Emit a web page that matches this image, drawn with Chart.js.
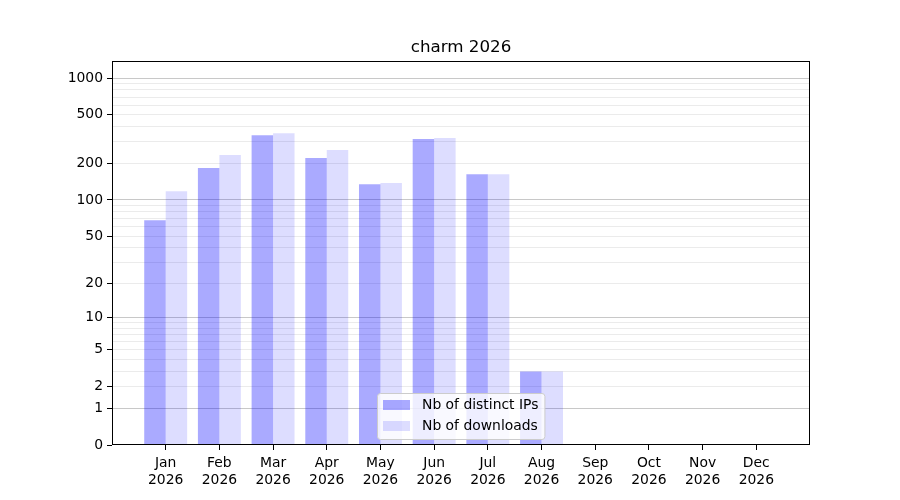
<!DOCTYPE html>
<html>
<head>
<meta charset="utf-8">
<title>charm 2026</title>
<script src="https://cdn.jsdelivr.net/npm/chart.js@4/dist/chart.umd.min.js"></script>
<style>
    html, body { margin: 0; padding: 0; background: #fff; }
    #wrap { width: 900px; height: 500px; }
</style>
</head>
<body>
<div id="wrap"><canvas id="myChart" width="900" height="500"></canvas></div>
<script>
const months = ['Jan', 'Feb', 'Mar', 'Apr', 'May', 'Jun', 'Jul', 'Aug', 'Sep', 'Oct', 'Nov', 'Dec'];
const year = '2026';
const distinctIps = [68, 183, 341, 221, 135, 317, 163, 3, 0, 0, 0, 0];
const downloads = [118, 234, 354, 257, 138, 323, 163, 3, 0, 0, 0, 0];
const yTicks = [0, 1, 2, 5, 10, 20, 50, 100, 200, 500, 1000];
const yMinorTicks = [3, 4, 6, 7, 8, 9, 30, 40, 60, 70, 80, 90, 300, 400, 600, 700, 800, 900];
const yDecades = [1, 10, 100, 1000];
const yMax = 1380;

// y scale drawn as log10(1 + v), like the original picture
class Log1pScale extends Chart.Scale {
    static id = 'log1p';
    static defaults = {};

    parse(raw) {
        return raw === null || raw === undefined ? null : +raw;
    }

    determineDataLimits() {
        const { min, max } = this.getMinMax(true);
        this.min = this.options.min ?? Math.min(0, min);
        this.max = this.options.max ?? max;
    }

    buildTicks() {
        return yTicks.concat(yMinorTicks)
            .filter(v => v >= this.min && v <= this.max)
            .sort((a, b) => a - b)
            .map(v => ({ value: v }));
    }

    configure() {
        super.configure();
        this._start = Math.log10(1 + this.min);
        this._range = Math.log10(1 + this.max) - this._start;
    }

    getLabelForValue(value) {
        return String(value);
    }

    getPixelForValue(value) {
        if (value === null || value === undefined || isNaN(value)) {
            return NaN;
        }
        return this.getPixelForDecimal((Math.log10(1 + value) - this._start) / this._range);
    }

    getValueForPixel(pixel) {
        return Math.pow(10, this._start + this.getDecimalForPixel(pixel) * this._range) - 1;
    }
}
Chart.register(Log1pScale);

// center the title over the plot area, not the whole canvas
const titleOverPlot = {
    id: 'titleOverPlot',
    afterLayout(chart) {
        if (chart.titleBlock) {
            chart.titleBlock.left = chart.chartArea.left;
            chart.titleBlock.right = chart.chartArea.right;
        }
    }
};

const frame = {
    id: 'frame',
    afterDatasetsDraw(chart) {
        const { ctx, chartArea: a } = chart;
        ctx.save();
        ctx.strokeStyle = '#000';
        ctx.lineWidth = 1;
        ctx.strokeRect(Math.round(a.left) + 0.5, Math.round(a.top) + 0.5,
            Math.round(a.right - a.left) - 1, Math.round(a.bottom - a.top) - 1);
        ctx.restore();
    }
};

const boxLegend = {
    id: 'boxLegend',
    afterDraw(chart) {
        const { ctx, chartArea: a } = chart;
        const sets = chart.data.datasets;
        ctx.save();
        ctx.font = '13.9px "DejaVu Sans"';
        const textW = Math.max(...sets.map(d => ctx.measureText(d.label).width));
        const pad = 6, handle = 27, gap = 12, row = 21;
        const w = pad + handle + gap + textW + pad;
        const h = 46;
        const x = Math.round((a.left + a.right) / 2 - w / 2);
        const y = Math.round(a.bottom - 6 - h);

        ctx.beginPath();
        ctx.roundRect(x + 0.5, y + 0.5, w, h, 3);
        ctx.fillStyle = 'rgba(255,255,255,0.8)';
        ctx.fill();
        ctx.strokeStyle = '#cccccc';
        ctx.lineWidth = 1;
        ctx.stroke();

        ctx.textBaseline = 'middle';
        sets.forEach((d, i) => {
            const cy = y + 12 + i * row;
            ctx.fillStyle = d.backgroundColor;
            ctx.fillRect(x + pad, cy - 5, handle, 10);
            ctx.fillStyle = '#000';
            ctx.fillText(d.label, x + pad + handle + gap, cy);
        });
        ctx.restore();
    }
};

Chart.defaults.font.family = '"DejaVu Sans", sans-serif';
Chart.defaults.font.size = 13.9;
Chart.defaults.color = '#000';

const ctx = document.getElementById('myChart').getContext('2d');
new Chart(ctx, {
    type: 'bar',
    data: {
        datasets: [
            {
                label: 'Nb of distinct IPs',
                data: distinctIps.map((v, i) => ({ x: i, y: v })),
                backgroundColor: 'rgba(0,0,255,0.333)',
                borderWidth: 0,
            },
            {
                label: 'Nb of downloads',
                data: downloads.map((v, i) => ({ x: i, y: v })),
                backgroundColor: 'rgba(0,0,255,0.133)',
                borderWidth: 0,
            },
        ]
    },
    options: {
        responsive: false,
        animation: false,
        layout: { padding: { left: 0, right: 90, top: 0, bottom: 0 } },
        datasets: {
            bar: { categoryPercentage: 0.8, barPercentage: 1.0 }
        },
        scales: {
            x: {
                type: 'linear',
                min: -1,
                max: months.length,
                offset: false,
                afterBuildTicks(scale) {
                    scale.ticks = months.map((m, i) => ({ value: i }));
                },
                afterFit(scale) {
                    scale.height = 55;
                },
                ticks: {
                    autoSkip: false,
                    maxRotation: 0,
                    padding: 5,
                    callback: (value) => months[value] ? [months[value], year] : '',
                },
                grid: {
                    offset: false,
                    drawOnChartArea: false,
                    drawTicks: true,
                    tickLength: 5,
                    tickColor: '#000',
                },
                border: { display: false },
            },
            y: {
                type: 'log1p',
                min: 0,
                max: yMax,
                afterFit(scale) {
                    scale.width = 112;
                },
                ticks: {
                    autoSkip: false,
                    padding: 4,
                    callback: (value) => yTicks.includes(value) ? String(value) : '',
                },
                grid: {
                    tickLength: 5,
                    lineWidth: 1,
                    color: (c) => {
                        const v = c.tick ? c.tick.value : 0;
                        if (v === 0) return 'rgba(0,0,0,0)';
                        return yDecades.includes(v) ? '#c8c8c8' : '#ebebeb';
                    },
                    tickColor: (c) => c.tick && yTicks.includes(c.tick.value) ? '#000' : 'rgba(0,0,0,0)',
                },
                border: { display: false },
            },
        },
        plugins: {
            legend: { display: false },
            tooltip: { enabled: false },
            title: {
                display: true,
                text: 'charm 2026',
                color: '#000',
                font: { size: 16.7, weight: 'normal', lineHeight: 1.2 },
                padding: { top: 38, bottom: 3 },
            },
        },
    },
    plugins: [titleOverPlot, frame, boxLegend],
});
</script>
</body>
</html>
